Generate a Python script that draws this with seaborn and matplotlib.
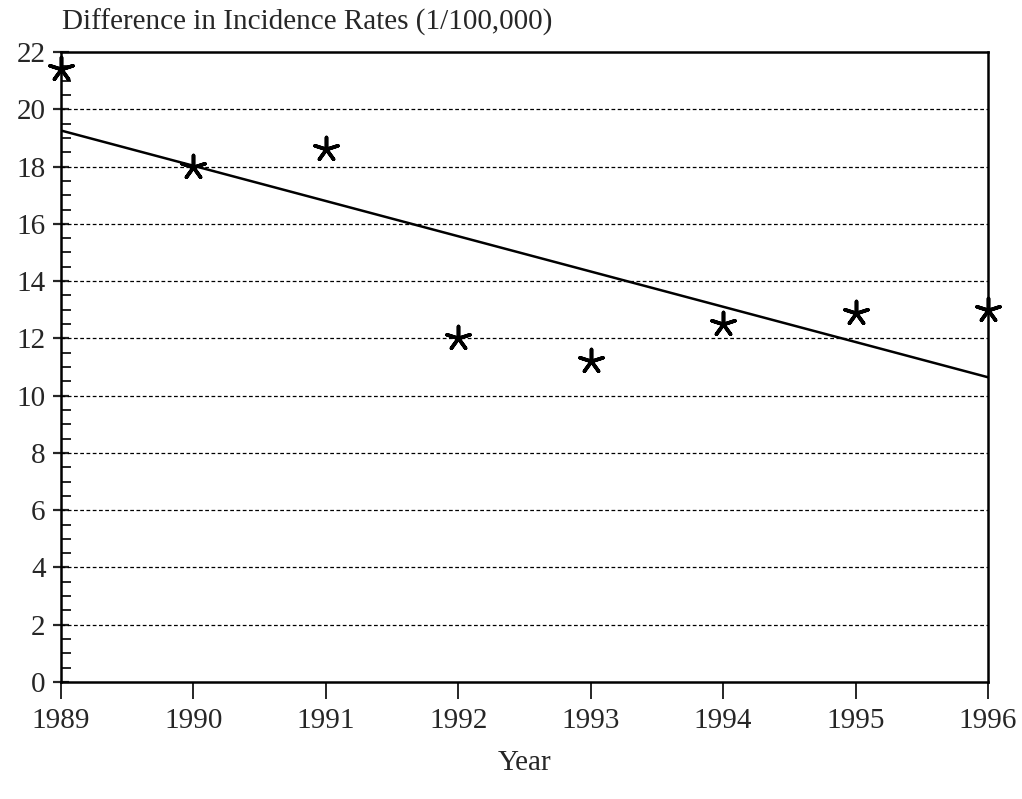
import numpy as np
import pandas as pd
import matplotlib
matplotlib.use("Agg")
import matplotlib.pyplot as plt
import seaborn as sns
from matplotlib.ticker import MultipleLocator

years = [1989, 1990, 1991, 1992, 1993, 1994, 1995, 1996]
diff_rates = [21.4, 18.0, 18.6, 12.0, 11.2, 12.5, 12.9, 13.0]
y_ticks = list(range(0, 23, 2))
title_text = "Difference in Incidence Rates (1/100,000)"
x_label = "Year"

df = pd.DataFrame({"Year": years, "Diff": diff_rates})

sns.set_style("white")
plt.rcParams['font.family'] = ['Liberation Serif', 'DejaVu Serif']

fig = plt.figure(figsize=(10.22, 7.99), dpi=100)
ax = fig.add_axes([61/1022, 1 - 682/799, (988-61)/1022, (682-52)/799])

sns.regplot(data=df, x="Year", y="Diff", scatter=False, ci=None, truncate=True,
            line_kws={"color": "black", "linewidth": 1.8}, ax=ax)
sns.scatterplot(data=df, x="Year", y="Diff", marker=(5, 2, 0), s=300,
                color="black", edgecolor="black", linewidth=2.6, ax=ax,
                clip_on=False, zorder=5, legend=False)

ax.set_xlim(1989, 1996)
ax.set_ylim(0, 22)
ax.set_yticks(y_ticks)
ax.yaxis.set_minor_locator(MultipleLocator(0.5))
ax.set_xticks(years)
ax.set_xticklabels([str(y) for y in years])

for yv in y_ticks[1:-1]:
    ax.axhline(yv, color="black", linestyle=(0, (3, 2)), linewidth=0.9, zorder=1)

for s in ax.spines.values():
    s.set_visible(True)
    s.set_color("black")
    s.set_linewidth(1.8)

ax.tick_params(axis="y", which="major", direction="inout", length=12, width=1.6,
               labelsize=21, pad=5, left=True)
ax.tick_params(axis="y", which="minor", direction="in", length=7, width=1.4, left=True)
ax.tick_params(axis="x", which="major", direction="out", length=12, width=1.4,
               labelsize=21, pad=7, bottom=True)

ax.set_xlabel(x_label, fontsize=21, labelpad=11)
ax.set_ylabel("")
fig.text(62/1022, 1 - 22/799, title_text, fontsize=21, ha="left", va="center")

fig.savefig("out.png", dpi=100, facecolor="white")
